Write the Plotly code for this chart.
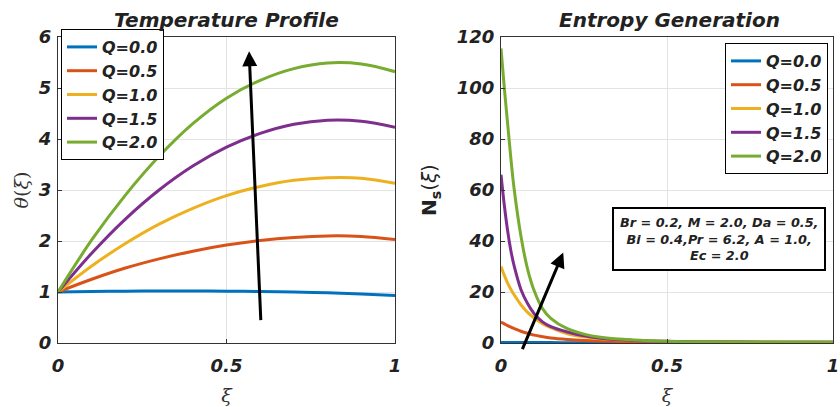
import plotly.graph_objects as go

# ---------------- data ----------------
xi_theta = [0.0, 0.1, 0.2, 0.3, 0.4, 0.5, 0.6, 0.7, 0.8, 0.9, 1.0]
theta_q00 = [1.00, 1.010, 1.015, 1.020, 1.020, 1.015, 1.010, 1.000, 0.985, 0.960, 0.930]
theta_q05 = [1.00, 1.25, 1.47, 1.65, 1.80, 1.92, 2.01, 2.07, 2.10, 2.09, 2.03]
theta_q10 = [1.00, 1.51, 1.95, 2.33, 2.64, 2.89, 3.07, 3.19, 3.24, 3.23, 3.13]
theta_q15 = [1.00, 1.76, 2.43, 3.00, 3.47, 3.84, 4.11, 4.29, 4.37, 4.35, 4.23]
theta_q20 = [1.00, 2.02, 2.90, 3.66, 4.30, 4.80, 5.15, 5.38, 5.49, 5.47, 5.32]

xi_ns = [0.0, 0.01, 0.02, 0.03, 0.04, 0.06, 0.08, 0.1, 0.125, 0.15, 0.2, 0.25,
         0.3, 0.4, 0.5, 0.6, 0.8, 1.0]
ns_q00 = [0.20, 0.20, 0.20, 0.19, 0.19, 0.18, 0.18, 0.17, 0.16, 0.15, 0.14, 0.13,
          0.12, 0.11, 0.10, 0.10, 0.10, 0.10]
ns_q05 = [8.2, 7.5, 6.8, 6.2, 5.6, 4.6, 3.8, 3.1, 2.5, 2.0, 1.4, 1.0,
          0.75, 0.5, 0.35, 0.3, 0.25, 0.25]
ns_q10 = [30.0, 26.5, 23.5, 21.0, 18.8, 15.0, 12.0, 9.8, 7.6, 6.0, 3.6, 2.4,
          1.7, 1.0, 0.6, 0.45, 0.33, 0.3]
ns_q15 = [66.0, 54.0, 44.0, 36.0, 30.0, 21.0, 15.5, 11.5, 8.3, 6.4, 4.3, 2.8,
          1.9, 1.0, 0.65, 0.45, 0.33, 0.3]
ns_q20 = [115.5, 100.0, 86.0, 72.0, 60.0, 42.0, 29.0, 20.5, 13.5, 9.7, 5.6, 3.5,
          2.3, 1.2, 0.7, 0.5, 0.35, 0.3]

q_labels = ["Q=0.0", "Q=0.5", "Q=1.0", "Q=1.5", "Q=2.0"]
theta_series = [theta_q00, theta_q05, theta_q10, theta_q15, theta_q20]
ns_series = [ns_q00, ns_q05, ns_q10, ns_q15, ns_q20]

x_tickvals = [0, 0.5, 1]
x_ticktext = ["0", "0.5", "1"]
theta_ticks = [0, 1, 2, 3, 4, 5, 6]
ns_ticks = [0, 20, 40, 60, 80, 100, 120]

params_text = "Br = 0.2, M = 2.0, Da = 0.5,<br>Bi = 0.4,Pr = 6.2, A = 1.0,<br>Ec = 2.0"

# ---------------- style ----------------
colors = ["#0072BD", "#D95319", "#EDB120", "#7E2F8E", "#77AC30"]
FONT = "DejaVu Sans"
bi = dict(family=FONT, color="#222222", weight="bold", style="italic")

fig = go.Figure()
for name, ys, c in zip(q_labels, theta_series, colors):
    fig.add_trace(go.Scatter(x=xi_theta, y=ys, mode="lines", name=name,
                             line=dict(color=c, width=3, shape="spline"),
                             xaxis="x", yaxis="y", legend="legend"))
for name, ys, c in zip(q_labels, ns_series, colors):
    fig.add_trace(go.Scatter(x=xi_ns, y=ys, mode="lines", name=name,
                             line=dict(color=c, width=3, shape="spline"),
                             xaxis="x2", yaxis="y2", legend="legend2"))

ax_common = dict(showline=True, linecolor="#333333", linewidth=1, mirror=True,
                 showgrid=True, gridcolor="#e3e3e3", gridwidth=1,
                 zeroline=False, ticks="inside", ticklen=4, tickcolor="#333333",
                 tickfont=dict(size=18, **bi), automargin=False,
                 ticklabeloverflow="allow")

ydom = [1 - 343/407, 1 - 37/407]
fig.update_layout(
    width=840, height=407,
    margin=dict(l=0, r=0, t=0, b=0),
    paper_bgcolor="white", plot_bgcolor="white",
    template="none",
    xaxis=dict(domain=[58/840, 395/840], range=[0, 1], tickvals=x_tickvals,
               ticktext=x_ticktext, anchor="y", ticklabelstandoff=6,
               title=dict(text="<i>ξ</i>", font=dict(family="DejaVu Serif", size=19, color="#333"),
                          standoff=14),
               **ax_common),
    yaxis=dict(domain=ydom, range=[0, 6], tickvals=theta_ticks,
               anchor="x", ticklabelstandoff=2,
               title=dict(text="<i>θ</i>(<i>ξ</i>)", font=dict(family="DejaVu Serif", size=19, color="#333"),
                          standoff=4),
               **ax_common),
    xaxis2=dict(domain=[501/840, 833/840], range=[0, 1], tickvals=x_tickvals,
                ticktext=x_ticktext, anchor="y2", ticklabelstandoff=6,
                title=dict(text="<i>ξ</i>", font=dict(family="DejaVu Serif", size=19, color="#333"),
                           standoff=14),
                **ax_common),
    yaxis2=dict(domain=ydom, range=[0, 120], tickvals=ns_ticks,
                anchor="x2", ticklabelstandoff=2,
                title=dict(text="<b>N<sub>s</sub></b>(<i>ξ</i>)", font=dict(family=FONT, size=20, color="#222"),
                           standoff=14),
                **ax_common),
    legend=dict(x=61/840, y=1-29/407, xanchor="left", yanchor="top",
                bgcolor="white", bordercolor="black", borderwidth=1,
                font=dict(size=16, **bi), tracegroupgap=0, itemwidth=30),
    legend2=dict(x=828/840, y=1-43/407, xanchor="right", yanchor="top",
                 bgcolor="white", bordercolor="black", borderwidth=1,
                 font=dict(size=16, **bi), tracegroupgap=0, itemwidth=30),
    showlegend=True,
)

annotations = [
    dict(text="Temperature Profile", x=226/840, y=1-20/407, xref="paper", yref="paper",
         showarrow=False, xanchor="center", yanchor="middle", font=dict(size=20, **bi)),
    dict(text="Entropy Generation", x=669/840, y=1-20/407, xref="paper", yref="paper",
         showarrow=False, xanchor="center", yanchor="middle", font=dict(size=20, **bi)),
    dict(text=params_text, x=719/840, y=1-239/407, xref="paper", yref="paper", showarrow=False,
         xanchor="center", yanchor="middle", align="center",
         bgcolor="white", bordercolor="black", borderwidth=2, borderpad=6,
         font=dict(size=12.8, **bi)),
    dict(text="", x=0.567, y=5.72, ax=0.602, ay=0.42, xref="x", yref="y",
         axref="x", ayref="y", showarrow=True, arrowhead=2, arrowsize=1,
         arrowwidth=3, arrowcolor="black"),
    dict(text="", x=0.1875, y=35.5, ax=0.0625, ay=-3.0, xref="x2", yref="y2",
         axref="x2", ayref="y2", showarrow=True, arrowhead=2, arrowsize=1,
         arrowwidth=3, arrowcolor="black"),
]
fig.update_layout(annotations=annotations)

fig.write_html("out.html", config={"displayModeBar": False},
               post_script="document.body.style.margin='0';document.body.style.overflow='hidden';")
